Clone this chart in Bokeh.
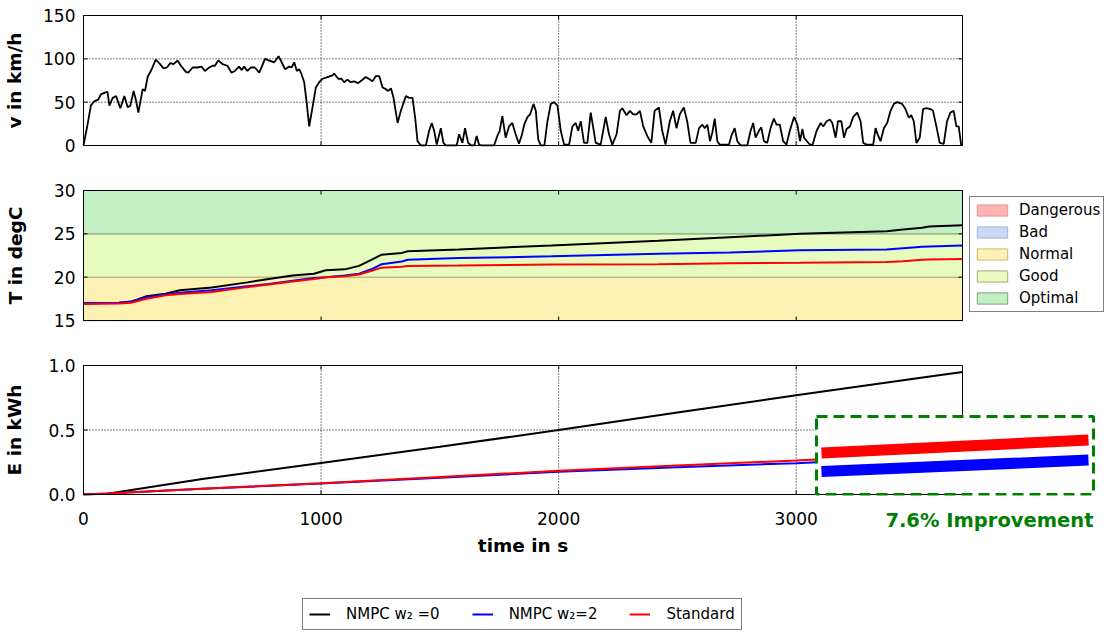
import numpy as np
from bokeh.plotting import figure
from bokeh.layouts import column
from bokeh.core.properties import value
from bokeh.models import (Range1d, FixedTicker, PrintfTickFormatter, Legend, LegendItem, Label)
from bokeh.embed import file_html
from bokeh.resources import INLINE

FONT = "DejaVu Sans"

# ---------------- drive cycle: vehicle speed ----------------
speed_time = [0, 17, 31, 45, 62, 73, 90, 101, 109, 123, 137, 155, 172, 186, 197, 211, 221, 231,
              249, 259, 270, 287, 304, 319, 337, 351, 365, 379, 396, 410, 431, 441, 459, 480,
              497, 511, 529, 543, 553, 567, 585, 606, 623, 637, 655, 665, 676, 690, 704, 721,
              740, 764, 782, 803, 821, 831, 848, 866, 876, 887, 898, 908, 918, 929, 940, 950,
              964, 978, 992, 1006, 1027, 1048, 1055, 1072, 1086, 1097, 1111, 1125, 1139, 1156,
              1170, 1188, 1207, 1216, 1230, 1245, 1259, 1273, 1283, 1294, 1305, 1322, 1336,
              1357, 1371, 1385, 1396, 1406, 1420, 1441, 1455, 1466, 1476, 1487, 1504, 1515,
              1525, 1571, 1581, 1595, 1606, 1619, 1633, 1645, 1655, 1665, 1675, 1728, 1742,
              1752, 1763, 1777, 1791, 1805, 1819, 1833, 1845, 1855, 1869, 1880, 1894, 1904,
              1914, 1925, 1940, 1953, 1967, 1981, 1995, 2009, 2023, 2044, 2058, 2072, 2082,
              2093, 2107, 2121, 2135, 2146, 2156, 2177, 2198, 2212, 2226, 2244, 2258, 2268,
              2286, 2300, 2314, 2328, 2342, 2356, 2373, 2390, 2404, 2422, 2436, 2450, 2468,
              2482, 2496, 2510, 2527, 2541, 2555, 2577, 2591, 2605, 2615, 2626, 2637, 2647,
              2657, 2668, 2678, 2717, 2727, 2741, 2752, 2766, 2794, 2808, 2819, 2829, 2843,
              2853, 2864, 2878, 2892, 2906, 2917, 2931, 2945, 2959, 2973, 2991, 3005, 3016,
              3026, 3033, 3054, 3068, 3086, 3103, 3114, 3128, 3142, 3152, 3166, 3176, 3190,
              3201, 3212, 3226, 3240, 3257, 3271, 3282, 3296, 3324, 3334, 3344, 3355, 3369,
              3383, 3397, 3411, 3425, 3446, 3460, 3474, 3484, 3495, 3506, 3520, 3534, 3548,
              3565, 3576, 3590, 3604, 3621, 3635, 3649, 3663, 3674, 3684, 3694, 3700]
speed_kmh = [0, 24, 46, 51, 53, 59, 61, 62, 46, 55, 57, 43, 57, 44, 46, 63, 52, 38,
             65, 63, 79, 88, 99, 95, 89, 90, 95, 94, 98, 92, 85, 84, 90, 90,
             91, 86, 90, 92, 92, 98, 94, 92, 84, 86, 91, 87, 91, 86, 90, 90,
             84, 100, 98, 96, 103, 98, 88, 91, 90, 96, 86, 88, 82, 73, 48, 22,
             44, 67, 73, 77, 79, 81, 83, 77, 77, 73, 76, 73, 74, 72,
             75, 79, 76, 74, 80, 80, 67, 65, 63, 66, 55, 26, 40,
             57, 55, 55, 32, 5, 0, 0, 17, 26, 17, 1, 20, 3,
             0, 0, 13, 3, 20, 3, 0, 0, 11, 1, 0, 0, 11,
             17, 34, 9, 22, 26, 13, 2, 12, 24, 33, 36, 48, 40,
             7, 0, 0, 28, 48, 50, 46, 17, 1, 1, 22, 26, 17,
             28, 3, 3, 38, 20, 3, 1, 33, 13, 1, 13, 40, 43,
             35, 40, 36, 36, 40, 22, 11, 3, 40, 44, 17, 1, 28,
             40, 20, 36, 44, 28, 3, 3, 20, 24, 20, 24, 5, 15,
             31, 5, 1, 1, 11, 20, 5, 0, 0, 17, 26, 9, 17,
             21, 5, 3, 20, 31, 24, 24, 5, 1, 17, 33, 24, 5,
             19, 9, 2, 0, 17, 26, 22, 28, 30, 26, 9, 28, 28,
             9, 19, 22, 33, 38, 28, 3, 1, 1, 20, 12, 5, 20,
             26, 40, 48, 50, 48, 42, 32, 35, 28, 3, 9, 42, 43,
             42, 40, 22, 3, 2, 28, 38, 40, 22, 22, 1, 0]

# ---------------- cabin temperature ----------------
temp_time = [0, 150, 200, 265, 345, 405, 540, 690, 780, 880, 970, 1020, 1100, 1160, 1220,
             1255, 1340, 1365, 1580, 1970, 2420, 2720, 3015, 3380, 3450, 3530, 3560, 3700]
temp_nmpc0 = [17.0, 17.05, 17.15, 17.8, 18.1, 18.5, 18.8, 19.4, 19.8, 20.2, 20.4, 20.8, 20.9,
              21.3, 22.1, 22.6, 22.8, 23.0, 23.2, 23.65, 24.2, 24.6, 25.0, 25.3, 25.5, 25.7,
              25.85, 26.0]
temp_nmpc2 = [17.0, 17.05, 17.2, 17.7, 18.0, 18.2, 18.5, 18.95, 19.2, 19.6, 19.9, 20.0, 20.2,
              20.4, 21.0, 21.5, 21.8, 22.0, 22.2, 22.4, 22.7, 22.85, 23.1, 23.2, 23.35, 23.5,
              23.55, 23.65]
temp_standard = [16.9, 16.95, 17.05, 17.5, 17.9, 18.05, 18.3, 18.85, 19.15, 19.5, 19.8, 20.0,
                 20.1, 20.3, 20.8, 21.1, 21.2, 21.3, 21.35, 21.45, 21.5, 21.6, 21.65, 21.75,
                 21.85, 22.0, 22.05, 22.1]

# comfort zones (degC)
zone_names = ["Dangerous", "Bad", "Normal", "Good", "Optimal"]
zone_low = [5, 10, 15, 20, 25]
zone_high = [10, 15, 20, 25, 30]
zone_fill = ["#ffb3b3", "#c9d9f5", "#fdf1b3", "#e6fbbd", "#c2f0c2"]
zone_edge = ["#e09a9a", "#a6b6d6", "#c8b87e", "#a9a978", "#7f9f7f"]

# ---------------- consumed energy ----------------
energy_time = [0, 100, 500, 1000, 1500, 2000, 2500, 3000, 3540, 3700]
energy_nmpc0 = [0.0, 0.005, 0.12, 0.245, 0.37, 0.50, 0.635, 0.77, 0.909, 0.95]
energy_nmpc2 = [0.0, 0.008, 0.044, 0.085, 0.130, 0.176, 0.212, 0.243, 0.2907, 0.305]
energy_standard = [0.0, 0.008, 0.045, 0.088, 0.135, 0.185, 0.225, 0.264, 0.314, 0.330]

series_labels = ["NMPC w\u2082 =0", "NMPC w\u2082=2", "Standard"]
series_colors = ["#000000", "#0000ff", "#ff0000"]

time_ticks = [0, 1000, 2000, 3000]
speed_ticks = [0, 50, 100, 150]
temp_ticks = [15, 20, 25, 30]
energy_ticks = [0.0, 0.5, 1.0]

# magnified window of the final energy values
zoom_time = (3537.0, 3703.0)
zoom_energy = (0.262, 0.3595)

T_END = speed_time[-1]

# ---------------- layout (page pixels) ----------------
FULL_W = 1107
FULL_H = 635
FRAME_L = 76              # every frame starts here, a little left of the axes box
BOX_L, BOX_R = 83, 962    # axes box edges (time 0 and T_END)
WIDE_R = 1100             # energy frames run past the box to host the zoom box
ZOOM_PAGE_X = (816, 1093) # zoom box columns
ZOOM_PX_H = 78            # zoom box height above the energy box bottom
BOX_BOTTOM3 = 494         # energy box bottom row
BORDER3 = 10              # room under the energy frame for its lowest y tick label
TICK_PX = 4
LABEL_END = 75            # right edge of the y tick labels

t_per_px = T_END / (BOX_R - BOX_L)


def make_panel(box_y, yticks, ylabel, label_standoff, box_h, frame_right, top, bottom,
               fmt=None):
    """Axes box of box_h pixels, framed with a spare pixel above and below."""
    y_per_px = (box_y[1] - box_y[0]) / box_h
    p = figure(frame_width=frame_right - FRAME_L, frame_height=box_h + 2,
               x_range=Range1d(-(BOX_L - FRAME_L) * t_per_px, (frame_right - BOX_L) * t_per_px),
               y_range=Range1d(box_y[0] - y_per_px, box_y[1] + y_per_px),
               x_axis_location=None,
               min_border_left=FRAME_L, min_border_right=FULL_W - frame_right,
               min_border_top=top, min_border_bottom=bottom,
               output_backend="svg", toolbar_location=None,
               background_fill_color="white", border_fill_color="white")
    p.outline_line_color = None
    for g in list(p.grid):
        g.visible = False
    for ax in p.yaxis:
        ax.ticker = FixedTicker(ticks=yticks)
        ax.axis_line_color = None
        ax.major_tick_in = 0
        ax.major_tick_out = 0
        ax.minor_tick_in = 0
        ax.minor_tick_out = 0
        ax.major_label_standoff = FRAME_L - LABEL_END
        ax.major_label_text_font = FONT
        ax.major_label_text_font_size = "17px"
        ax.major_label_text_color = "black"
        ax.axis_label = ylabel
        ax.axis_label_standoff = label_standoff
        ax.axis_label_text_font = FONT
        ax.axis_label_text_font_style = "bold"
        ax.axis_label_text_font_size = "18.5px"
        ax.axis_label_text_color = "black"
        if fmt:
            ax.formatter = PrintfTickFormatter(format=fmt)
    return p, y_per_px


def spines(p, box_y, sides):
    ends = {"left": (0, box_y[0], 0, box_y[1]),
            "right": (T_END, box_y[0], T_END, box_y[1]),
            "top": (0, box_y[1], T_END, box_y[1]),
            "bottom": (0, box_y[0], T_END, box_y[0])}
    segs = [ends[s] for s in sides]
    p.segment(x0=[s[0] for s in segs], y0=[s[1] for s in segs],
              x1=[s[2] for s in segs], y1=[s[3] for s in segs],
              line_color="black", line_width=1)


def inward_ticks(p, box_y, yticks, y_per_px, sides):
    dx = TICK_PX * t_per_px
    dy = TICK_PX * y_per_px
    n, m = len(time_ticks), len(yticks)
    if "bottom" in sides:
        p.segment(x0=time_ticks, y0=[box_y[0]] * n, x1=time_ticks, y1=[box_y[0] + dy] * n,
                  line_color="black", line_width=1)
    if "top" in sides:
        p.segment(x0=time_ticks, y0=[box_y[1] - dy] * n, x1=time_ticks, y1=[box_y[1]] * n,
                  line_color="black", line_width=1)
    if "left" in sides:
        p.segment(x0=[0] * m, y0=yticks, x1=[dx] * m, y1=yticks,
                  line_color="black", line_width=1)
    if "right" in sides:
        p.segment(x0=[T_END - dx] * m, y0=yticks, x1=[T_END] * m, y1=yticks,
                  line_color="black", line_width=1)


def dotted_grid(p, box_y, yticks):
    inner_t = time_ticks[1:]
    p.segment(x0=inner_t, y0=[box_y[0]] * len(inner_t), x1=inner_t,
              y1=[box_y[1]] * len(inner_t), line_color="black", line_dash="1 2", line_width=1)
    inner_y = yticks[1:-1]
    p.segment(x0=[0] * len(inner_y), y0=inner_y, x1=[T_END] * len(inner_y), y1=inner_y,
              line_color="black", line_dash="1 2", line_width=1)


ALL_SIDES = ("left", "right", "top", "bottom")

# ---------------- speed panel ----------------
speed_box = (speed_ticks[0], speed_ticks[-1])
p1, v_px = make_panel(speed_box, speed_ticks, "v in km/h", 15, 130, BOX_R + 1, 14, 22)
dotted_grid(p1, speed_box, speed_ticks)
p1.line(speed_time, speed_kmh, line_color="black", line_width=1.8)
spines(p1, speed_box, ALL_SIDES)
inward_ticks(p1, speed_box, speed_ticks, v_px, ALL_SIDES)

# ---------------- temperature panel ----------------
temp_box = (temp_ticks[0], temp_ticks[-1])
p2, T_px = make_panel(temp_box, temp_ticks, "T in degC", 25, 130, BOX_R + 1, 21, 22)
zone_items = []
for name, lo, hi, fc, ec in zip(zone_names, zone_low, zone_high, zone_fill, zone_edge):
    r = p2.quad(left=[0], right=[T_END], bottom=[lo], top=[hi],
                fill_color=fc, fill_alpha=1.0, line_color=ec, line_width=1)
    zone_items.append(LegendItem(label=name, renderers=[r]))
for vals, col in zip([temp_nmpc0, temp_nmpc2, temp_standard], series_colors):
    p2.line(temp_time, vals, line_color=col, line_width=2)
spines(p2, temp_box, ALL_SIDES)
inward_ticks(p2, temp_box, temp_ticks, T_px, ALL_SIDES)

zone_legend = Legend(items=zone_items, location=(6, 9), orientation="vertical",
                     label_text_font=FONT, label_text_font_size="15px",
                     label_text_color="black", glyph_width=38, glyph_height=14,
                     label_height=20, spacing=2, padding=3, label_standoff=8, margin=0,
                     border_line_color="black", border_line_width=1,
                     background_fill_color="white", background_fill_alpha=1.0)
p2.add_layout(zone_legend, "right")

# ---------------- energy panel ----------------
energy_box = (energy_ticks[0], energy_ticks[-1])
p3, e_px = make_panel(energy_box, energy_ticks, "E in kWh", 20, 129, WIDE_R, 21, BORDER3,
                      fmt="%.1f")

# ranges that place the zoom window inside its box
sx = (ZOOM_PAGE_X[1] - ZOOM_PAGE_X[0]) / (zoom_time[1] - zoom_time[0])
sy = ZOOM_PX_H / (zoom_energy[1] - zoom_energy[0])
zoom_x = Range1d(zoom_time[0] - (ZOOM_PAGE_X[0] - FRAME_L) / sx,
                 zoom_time[0] + (WIDE_R - ZOOM_PAGE_X[0]) / sx)
zoom_y = Range1d(zoom_energy[0] - 1 / sy, zoom_energy[0] + 130 / sy)
p3.extra_x_ranges = {"zoom": zoom_x}
p3.extra_y_ranges = {"zoom": zoom_y}

dotted_grid(p3, energy_box, energy_ticks)
for vals, col in zip([energy_nmpc0, energy_nmpc2, energy_standard], series_colors):
    p3.line(energy_time, vals, line_color=col, line_width=2)
spines(p3, energy_box, ("left", "right", "top"))
inward_ticks(p3, energy_box, energy_ticks, e_px, ("left", "right", "top"))

# zoom box background
p3.quad(left=[zoom_time[0]], right=[zoom_time[1]], bottom=[zoom_energy[0]],
        top=[zoom_energy[1]], fill_color="white", line_color=None,
        x_range_name="zoom", y_range_name="zoom")
spines(p3, energy_box, ("bottom",))
inward_ticks(p3, energy_box, energy_ticks, e_px, ("bottom",))

# zoom box frame and the magnified end of the two lower curves
p3.quad(left=[zoom_time[0]], right=[zoom_time[1]], bottom=[zoom_energy[0]],
        top=[zoom_energy[1]], fill_color=None, line_color="#008000", line_width=3,
        line_dash="11 6", x_range_name="zoom", y_range_name="zoom")
et = np.array(energy_time, dtype=float)
in_zoom = (et >= zoom_time[0]) & (et <= zoom_time[1])
for vals, col in zip([energy_standard, energy_nmpc2], ["#ff0000", "#0000ff"]):
    p3.line(et[in_zoom], np.array(vals)[in_zoom], line_color=col, line_width=11,
            x_range_name="zoom", y_range_name="zoom")

# ---------------- strip under the energy axes ----------------
foot_top = BOX_BOTTOM3 + 1 + BORDER3
p4 = figure(frame_width=WIDE_R - FRAME_L, frame_height=FULL_H - foot_top,
            x_range=p3.x_range,
            y_range=Range1d(energy_box[0] - (FULL_H - BOX_BOTTOM3) * e_px,
                            energy_box[0] - (foot_top - BOX_BOTTOM3) * e_px),
            x_axis_location=None, y_axis_location=None,
            min_border_left=FRAME_L, min_border_right=FULL_W - WIDE_R,
            min_border_top=0, min_border_bottom=0,
            output_backend="svg", toolbar_location=None,
            background_fill_color="white", border_fill_color="white")
p4.outline_line_color = None
for g in list(p4.grid):
    g.visible = False
p4.extra_x_ranges = {"zoom": zoom_x}


def px_below_box(px):
    """Energy value of the row px pixels under the energy box bottom."""
    return energy_box[0] - px * e_px


# time tick labels under the axes box
p4.text(x=time_ticks, y=[px_below_box(24)] * len(time_ticks),
        text=[str(t) for t in time_ticks], text_align="center", text_baseline="alphabetic",
        text_font=value(FONT), text_font_size=value("17px"), text_color="black")

p4.add_layout(Label(x=T_END / 2, y=px_below_box(51), text="time in s",
                    text_align="center", text_baseline="middle", text_font=FONT,
                    text_font_style="bold", text_font_size="18.5px", text_color="black"))

saving = (energy_standard[-1] - energy_nmpc2[-1]) / energy_standard[-1] * 100
p4.add_layout(Label(x=zoom_time[1], y=px_below_box(25.5), x_range_name="zoom",
                    text=f"{saving:.1f}% Improvement", text_align="right",
                    text_baseline="alphabetic", text_font=FONT, text_font_style="bold",
                    text_font_size="19.5px", text_color="#008000"))

# the three energy curves continue above this strip; their keys sit in the legend here
key_renderers = [p4.line(energy_time, vals, line_color=col, line_width=2)
                 for vals, col in zip([energy_nmpc0, energy_nmpc2, energy_standard],
                                      series_colors)]
series_legend = Legend(items=[LegendItem(label=lab, renderers=[r])
                              for lab, r in zip(series_labels, key_renderers)],
                       location=(302 - FRAME_L, 5), orientation="horizontal",
                       label_text_font=FONT, label_text_font_size="15px",
                       label_text_color="black", glyph_width=21, glyph_height=16,
                       label_height=16, spacing=32, padding=6, label_standoff=16, margin=0,
                       border_line_color="black", border_line_width=1,
                       background_fill_color="white", background_fill_alpha=1.0)
p4.add_layout(series_legend, "center")

layout = column(p1, p2, p3, p4, spacing=0)

open("out.html", "w").write(file_html(layout, INLINE))
